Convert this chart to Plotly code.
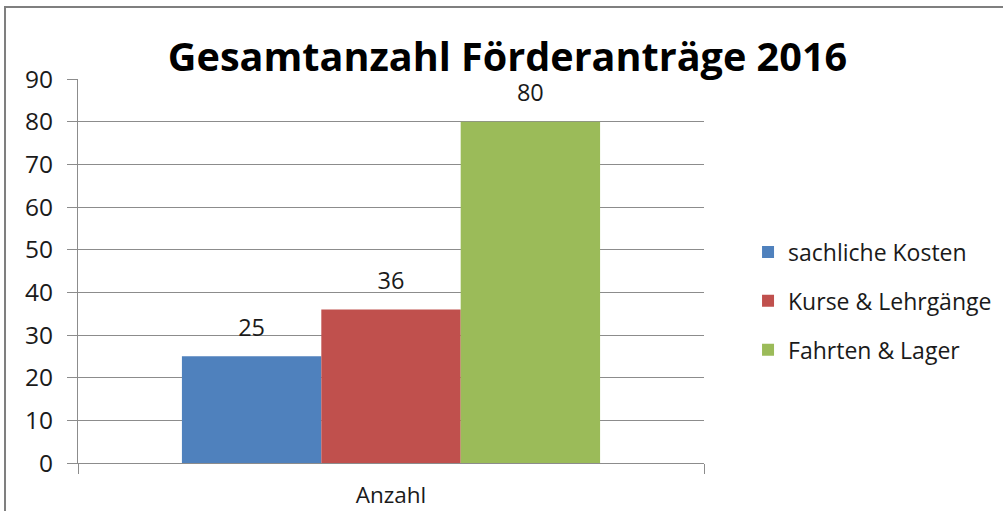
import plotly.graph_objects as go

KATEGORIE = ["Anzahl"]
SERIEN = ["sachliche Kosten", "Kurse & Lehrgänge", "Fahrten & Lager"]
WERTE = [25, 36, 80]
FARBEN = ["#4F81BD", "#C0504D", "#9BBB59"]

GRID = "#8C8C8C"
TEXT = "#1A1A1A"
FONT = "Open Sans, sans-serif"

fig = go.Figure()
for name, val, col in zip(SERIEN, WERTE, FARBEN):
    fig.add_trace(go.Bar(
        x=KATEGORIE, y=[val], name=name,
        marker=dict(color=col, line=dict(width=0)),
        offsetgroup=name, alignmentgroup="a",
        legendgroup=name,
    ))
# data labels as grouped text so they sit a bit higher above the bars
for name, val in zip(SERIEN, WERTE):
    fig.add_trace(go.Scatter(
        x=KATEGORIE, y=[val], mode="markers+text",
        marker=dict(size=22, color="rgba(0,0,0,0)"),
        text=[str(val)], textposition="top center",
        textfont=dict(size=23.5, color=TEXT, family=FONT),
        offsetgroup=name, alignmentgroup="a",
        showlegend=False, hoverinfo="skip", cliponaxis=False,
    ))

fig.update_layout(
    width=1003, height=511,
    barmode="group", bargap=0.332, bargroupgap=0,
    scattermode="group", scattergap=0.332,
    paper_bgcolor="white", plot_bgcolor="white",
    font=dict(family=FONT, color=TEXT, size=21),
    margin=dict(l=78, r=299, t=79, b=48, autoexpand=False),
    title=dict(
        text="<b>Gesamtanzahl Förderanträge 2016</b>",
        x=0.506, xanchor="center", y=0.888, yanchor="middle",
        font=dict(size=39.6, color="black", family=FONT),
    ),
    showlegend=True,
    legend=dict(
        xref="container", yref="container",
        x=0.7458, xanchor="left", y=0.411, yanchor="middle",
        font=dict(size=23, color=TEXT, family=FONT),
        tracegroupgap=16, traceorder="grouped",
        itemwidth=30,
    ),
    yaxis=dict(
        range=[0, 90], dtick=10, showgrid=True, gridcolor=GRID, gridwidth=1,
        showline=True, linecolor=GRID, ticks="outside", ticklen=10, tickcolor=GRID,
        zeroline=False, tickfont=dict(size=24.5, color=TEXT), ticklabelstandoff=9,
    ),
    xaxis=dict(
        showline=True, linecolor=GRID, ticks="outside", ticklen=10, tickcolor=GRID,
        tickson="boundaries", showgrid=False, tickfont=dict(size=22.5, color=TEXT),
        ticklabelstandoff=12,
    ),
    shapes=[dict(
        type="rect", xref="paper", yref="paper",
        x0=-0.1166, x1=1.6, y0=-0.3, y1=1.1875,
        line=dict(color="#7F7F7F", width=2), layer="below",
    )],
)

fig.write_html("out.html", config={"displayModeBar": False},
               post_script="document.body.style.margin='0';")
